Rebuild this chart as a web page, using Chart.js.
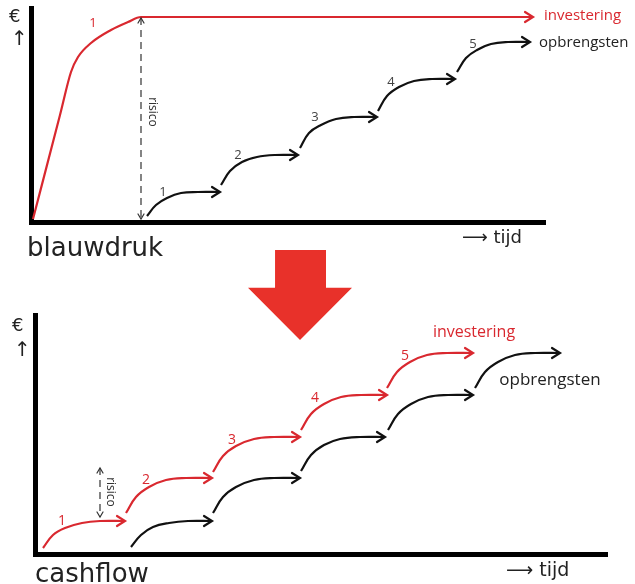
<!DOCTYPE html>
<html>
<head>
<meta charset="utf-8">
<script src="https://cdn.jsdelivr.net/npm/chart.js@4.4.1/dist/chart.umd.min.js"></script>
<style>
  body { margin: 0; background: #fff; width: 635px; height: 584px; position: relative; overflow: hidden; font-family: 'DejaVu Sans', sans-serif; }
  .box { position: absolute; left: 0; width: 635px; }
  #topBox { top: 0; height: 260px; }
  #bottomBox { top: 290px; height: 294px; }
  .t { position: absolute; white-space: nowrap; color: #222; line-height: 1; }
  .title { font-size: 26px; }
  .bigarrow { position: absolute; left: 248px; top: 250px; width: 104px; height: 90px; background: #e8312a;
    clip-path: polygon(26% 0, 75% 0, 75% 42%, 100% 42%, 50% 100%, 0 42%, 26% 42%); }
</style>
</head>
<body>
<div class="box" id="topBox"><canvas id="topChart"></canvas></div>
<div class="box" id="bottomBox"><canvas id="bottomChart"></canvas></div>

<div class="t" style="left:9px;top:7px;font-size:18px;">€</div>
<div class="t" style="left:11px;top:28px;font-size:20px;">↑</div>
<div class="t title" style="left:27px;top:234px;">blauwdruk</div>
<div class="t" style="left:462px;top:228px;font-size:18px;">⟶ tijd</div>

<div class="bigarrow"></div>

<div class="t" style="left:12px;top:316px;font-size:18px;">€</div>
<div class="t" style="left:14px;top:339px;font-size:20px;">↑</div>
<div class="t title" style="left:35px;top:560px;">cashflow</div>
<div class="t" style="left:506px;top:560px;font-size:19px;">⟶ tijd</div>

<script>
// blauwdruk: tijd (x) / euro (y), origin at the axis corner
const topInvestering = [[2,3],[29,107],[40,150],[47,165],[60,179],[80,192],[97,200],[110,205],[502,205]];
const topRisico = [[110,204],[110,3]];
const topOpbrengsten = [
  [[116,6],[125,17],[136,24],[150,29],[167,30],[189,30]],
  [[190,37],[199,51],[211,60],[226,65],[244,67],[267,67]],
  [[269,74],[278,89],[290,97],[305,103],[323,105],[346,105]],
  [[347,111],[356,126],[368,135],[383,141],[401,143],[424,143]],
  [[426,150],[435,164],[446,172],[460,178],[477,180],[499,180]]
];
const topStepLabels = ['1', '2', '3', '4', '5'];
const topStepLabelPos = [[132,30],[207,67],[284,105],[360,140],[442,178]];

// cashflow: investering in steps, opbrengsten one step behind
const bottomInvestering = [
  [[8,6],[18,19],[30,26],[47,31],[65,33],[90,33]],
  [[91,41],[101,57],[114,67],[131,74],[151,76],[177,76]],
  [[178,82],[188,98],[201,108],[219,115],[239,117],[265,117]],
  [[266,124],[276,140],[289,150],[306,157],[326,159],[352,159]],
  [[352,166],[362,182],[375,192],[392,199],[412,201],[438,201]]
];
const bottomOpbrengsten = [
  [[96,7],[106,19],[118,27],[134,31],[153,33],[177,33]],
  [[178,41],[188,57],[201,67],[219,74],[239,76],[265,76]],
  [[266,83],[276,99],[289,109],[305,115],[325,117],[350,117]],
  [[353,124],[363,140],[376,150],[393,157],[413,159],[438,159]],
  [[440,166],[450,182],[463,192],[480,199],[500,201],[525,201]]
];
const bottomRisico = [[65,86],[65,37]];
const bottomStepLabels = ['1', '2', '3', '4', '5'];
const bottomStepLabelPos = [[27,33],[111,74],[197,114],[280,156],[370,198]];

const RED = '#d9282f';
const BLACK = '#111';
const LABEL = "'Open Sans', sans-serif";

const pts = (arr) => arr.map(([x, y]) => ({ x, y }));

const curve = (arr, color) => ({
  data: pts(arr),
  borderColor: color,
  borderWidth: 2.2,
  pointRadius: 0,
  fill: false,
  tension: 0.4,
  clip: false,
  head: { end: true, len: 8, half: 5 }
});

const dashed = (arr) => ({
  data: pts(arr),
  borderColor: '#333',
  borderWidth: 1.2,
  borderDash: [7, 5],
  pointRadius: 0,
  tension: 0,
  clip: false,
  head: { end: true, start: true, len: 5, half: 3, w: 1.2 }
});

// open chevron arrowheads at the ends of a dataset
const arrowHeads = {
  id: 'arrowHeads',
  afterDatasetsDraw(chart) {
    const ctx = chart.ctx;
    chart.data.datasets.forEach((ds, i) => {
      const p = chart.getDatasetMeta(i).data;
      if (!ds.head || p.length < 2) return;
      const ends = [];
      if (ds.head.end) ends.push([p[p.length - 1], p[p.length - 2]]);
      if (ds.head.start) ends.push([p[0], p[1]]);
      ends.forEach(([tip, prev]) => {
        const a = Math.atan2(tip.y - prev.y, tip.x - prev.x);
        ctx.save();
        ctx.translate(tip.x, tip.y);
        ctx.rotate(a);
        ctx.setLineDash([]);
        ctx.strokeStyle = ds.borderColor;
        ctx.lineWidth = ds.head.w || ds.borderWidth;
        ctx.lineCap = 'round';
        ctx.beginPath();
        ctx.moveTo(-ds.head.len, -ds.head.half);
        ctx.lineTo(0, 0);
        ctx.lineTo(-ds.head.len, ds.head.half);
        ctx.stroke();
        ctx.restore();
      });
    });
  }
};

// text placed at data coordinates
const notesPlugin = (notes) => ({
  id: 'notes',
  afterDatasetsDraw(chart) {
    const ctx = chart.ctx;
    const xs = chart.scales.x, ys = chart.scales.y;
    notes.forEach(n => {
      ctx.save();
      ctx.translate(xs.getPixelForValue(n.x), ys.getPixelForValue(n.y));
      if (n.rotate) ctx.rotate(n.rotate);
      ctx.font = n.font;
      ctx.fillStyle = n.color;
      ctx.textAlign = n.align || 'center';
      ctx.textBaseline = 'middle';
      ctx.fillText(n.text, 0, 0);
      ctx.restore();
    });
  }
});

const axis = (max) => ({
  type: 'linear',
  min: 0,
  max: max,
  grid: { display: false, drawTicks: false },
  ticks: { display: false },
  border: { display: true, color: '#000', width: 5 }
});

function makeChart(id, datasets, notes, xMax, yMax, padding) {
  return new Chart(document.getElementById(id), {
    type: 'line',
    data: { datasets: datasets },
    options: {
      responsive: true,
      maintainAspectRatio: false,
      animation: false,
      layout: { padding: padding },
      scales: { x: axis(xMax), y: axis(yMax) },
      plugins: { legend: { display: false }, tooltip: { enabled: false } }
    },
    plugins: [arrowHeads, notesPlugin(notes)]
  });
}

// blauwdruk
const topLine = curve(topInvestering, RED);
topLine.cubicInterpolationMode = 'monotone';   // keeps the long flat part straight
const topSets = [topLine, dashed(topRisico)]
  .concat(topOpbrengsten.map(s => curve(s, BLACK)));
const topNotes = topStepLabels.map((t, i) => ({
  text: t, x: topStepLabelPos[i][0], y: topStepLabelPos[i][1], color: '#444', font: '13px ' + LABEL
})).concat([
  { text: '1', x: 62, y: 199, color: RED, font: '13px ' + LABEL },
  { text: 'investering', x: 513, y: 206, color: RED, font: '15px ' + LABEL, align: 'left' },
  { text: 'opbrengsten', x: 508, y: 179, color: '#222', font: '15px ' + LABEL, align: 'left' },
  { text: 'risico', x: 121, y: 110, color: '#333', font: '12px ' + LABEL, rotate: Math.PI / 2 }
]);
makeChart('topChart', topSets, topNotes, 514, 214, { left: 31, right: 90, top: 8, bottom: 38 });

// cashflow
const bottomSets = bottomInvestering.map(s => curve(s, RED))
  .concat(bottomOpbrengsten.map(s => curve(s, BLACK)))
  .concat([dashed(bottomRisico)]);
const bottomNotes = bottomStepLabels.map((t, i) => ({
  text: t, x: bottomStepLabelPos[i][0], y: bottomStepLabelPos[i][1], color: RED, font: '14px ' + LABEL
})).concat([
  { text: 'investering', x: 439, y: 222, color: RED, font: '500 16px ' + LABEL },
  { text: 'opbrengsten', x: 515, y: 174, color: '#222', font: '17px ' + LABEL },
  { text: 'risico', x: 75, y: 62, color: '#333', font: '12px ' + LABEL, rotate: Math.PI / 2 }
]);
makeChart('bottomChart', bottomSets, bottomNotes, 572, 239, { left: 35, right: 28, top: 25, bottom: 30 });
</script>
</body>
</html>
